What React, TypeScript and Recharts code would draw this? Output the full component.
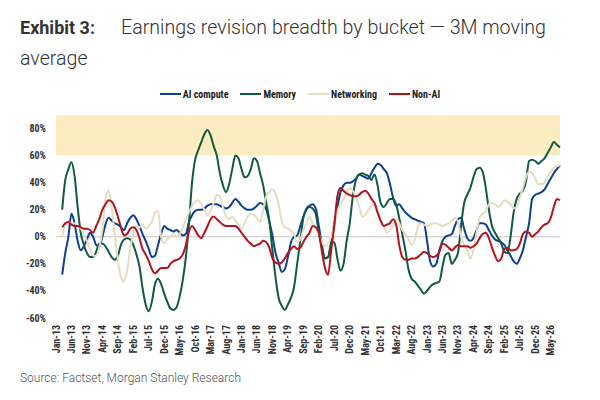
import React from "react";
import {
  LineChart,
  Line,
  XAxis,
  YAxis,
  ReferenceArea,
  ReferenceLine,
} from "recharts";

const MONTHS = ["Jan", "Feb", "Mar", "Apr", "May", "Jun", "Jul", "Aug", "Sep", "Oct", "Nov", "Dec"];
const FIRST_YEAR = 13;
const N_MONTHS = 164; // Jan-13 .. Aug-26

const categories: string[] = [];
for (let i = 0; i < N_MONTHS; i++) {
  categories.push(`${MONTHS[i % 12]}-${FIRST_YEAR + Math.floor(i / 12)}`);
}

const yTicks = [-60, -40, -20, 0, 20, 40, 60, 80];

// 3M moving average, % (null = no data)
const aiCompute: (number | null)[] = [
  null, null, -28, -12, 0, 17, 10, -3, -10, -7, -2, 3,
  0, -6, -7, 0, 9, 14, 12, 10, 9, 7, 5, 10,
  14, 16, 13, 8, 2, -3, -9, -15, -14, -6, 2, 8,
  6, 5, 4, 5, 3, 1, 2, 11, 16, 19, 20, 20,
  21, 23, 24, 24, 24, 23, 22, 21, 22, 25, 28, 26,
  23, 21, 20, 20, 21, 23, 25, 24, 20, 11, 1, -12,
  -19, -26, -24, -15, -4, 0, 1, 8, 15, 21, 23, 24,
  21, 8, -6, -16, -15, -4, 10, 22, 33, 38, 40, 40,
  41, 43, 46, 45, 44, 43, 47, 51, 54, 53, 50, 47,
  39, 29, 23, 24, 21, 18, 16, 14, 13, 12, 11, 10,
  -3, -18, -22, -20, -10, -3, 0, 1, 2, 8, 13, 14,
  6, -1, -3, -1, 5, 10, 10, 9, 5, 1, -2, -3,
  -4, -6, -10, -14, -18, -20, -16, -10, 0, 10, 28, 31,
  32, 33, 35, 39, 43, 47, 50, 53,
];

const memory: (number | null)[] = [
  null, null, 20, 42, 50, 55, 45, 22, 3, -6, -12, -15,
  -15, -11, -5, -5, -7, -11, -15, -17, -14, -6, -2, -1,
  -2, -6, -13, -22, -38, -50, -55, -48, -35, -31, -35, -42,
  -48, -53, -54, -52, -44, -32, -15, 10, 40, 57, 64, 70,
  76, 79, 75, 67, 60, 47, 38, 33, 39, 50, 60, 58,
  50, 44, 45, 50, 58, 56, 47, 38, 25, 12, -10, -30,
  -45, -51, -54, -50, -45, -37, -20, -3, 14, 20, 22, 21,
  17, 3, -8, -16, -15, -5, -4, -16, -25, -20, -3, 10,
  30, 42, 46, 47, 46, 45, 42, 46, 38, 25, 22, 25,
  28, 28, 24, 14, 2, -10, -24, -31, -33, -36, -39, -42,
  -40, -37, -35, -34, -33, -22, -13, -12, -20, -17, -12, 8,
  25, 31, 36, 44, 50, 51, 48, 36, 20, 8, 3, -1,
  -5, -11, -12, 0, 18, 28, 32, 34, 41, 56, 57, 56,
  54, 56, 58, 62, 66, 70, 68, 66,
];

const networking: (number | null)[] = [
  null, null, 0, 9, 11, 10, 10, 8, 6, 2, -3, -9,
  -14, -14, -8, 5, 28, 34, 22, 2, -17, -30, -33, -25,
  -9, 3, 8, 7, 9, 6, 8, 11, 18, 19, 0, -5,
  -2, 0, 2, 0, 2, 7, 13, 18, 23, 26, 27, 24,
  20, 16, 19, 25, 31, 30, 22, 15, 13, 15, 12, 9,
  6, 10, 15, 17, 16, 14, 11, 20, 30, 33, 35, 32,
  24, 12, 7, 6, 4, 2, -4, -2, 5, 10, 15, 10,
  7, 2, -4, -7, -5, 0, 9, 19, 24, 28, 33, 36,
  34, 29, 23, 15, 16, 20, 23, 24, 18, 12, 8, 3,
  5, 8, 13, 10, 5, 2, -2, -6, -2, 7, 10, 9,
  8, 9, 10, 10, 9, 8, 9, 10, 12, 14, 11, 0,
  -6, -10, -16, -10, 3, 14, 17, 19, 24, 25, 24, 22,
  24, 27, 26, 24, 21, 22, 29, 36, 44, 48, 47, 43,
  39, 39, 40, 45, 48, 51, 52, 53,
];

const nonAI: (number | null)[] = [
  null, null, 7, 10, 11, 9, 8, 8, 7, 6, 6, 5,
  3, 8, 13, 20, 24, 27, 26, 22, 15, 7, 1, 2,
  6, 7, 5, -1, -9, -13, -18, -24, -27, -25, -23, -23,
  -23, -20, -18, -17, -16, -13, -6, 4, 8, 5, 1, -1,
  3, 8, 13, 15, 13, 11, 9, 8, 8, 8, 8, 6,
  3, 0, -3, -5, -7, -6, -5, -3, -4, -8, -16, -19,
  -20, -19, -16, -12, -9, -7, -9, -8, -4, 0, 3, 8,
  7, 3, -11, -23, -28, -10, 8, 30, 36, 34, 32, 31,
  30, 30, 31, 33, 34, 32, 28, 25, 18, 12, 8, 9,
  10, 13, 9, -6, -15, -17, -17, -16, -16, -15, -13, -11,
  -12, -14, -15, -14, -11, -5, -6, -8, -10, -8, -6, -7,
  -7, -7, -8, -7, -5, -1, 2, 3, -1, -8, -14, -18,
  -16, -9, -8, -10, -10, -9, -5, 2, 4, 3, 0, 2,
  4, 7, 9, 10, 14, 22, 28, 27,
];

const series = [
  { key: "aiCompute", name: "AI compute", color: "#0d3f8f", values: aiCompute },
  { key: "memory", name: "Memory", color: "#105a44", values: memory },
  { key: "networking", name: "Networking", color: "#e6dcc2", values: networking },
  { key: "nonAI", name: "Non-AI", color: "#b3141c", values: nonAI },
];

const data = categories.map((month, i) => {
  const row: Record<string, string | number | null> = { month };
  series.forEach((s) => {
    row[s.key] = s.values[i] ?? null;
  });
  return row;
});

const AXIS_FONT = "'Liberation Sans Narrow', 'Roboto Condensed', Roboto, sans-serif";

const XTick = (props: any) => {
  const { x, y, payload } = props;
  return (
    <text
      x={x}
      y={y}
      transform={`rotate(-90, ${x}, ${y})`}
      textAnchor="end"
      dy="0.35em"
      fontSize={10}
      fontWeight={700}
      fontFamily={AXIS_FONT}
      fill="#333"
    >
      {payload.value}
    </text>
  );
};

const LegendBlock = () => (
  <div
    style={{
      position: "absolute",
      top: 88,
      left: 0,
      width: 600,
      height: 12,
      display: "flex",
      justifyContent: "center",
      alignItems: "center",
      fontFamily: AXIS_FONT,
      fontSize: 10,
      fontWeight: 700,
      color: "#222",
    }}
  >
    {series.map((s, idx) => (
      <div
        key={s.key}
        style={{ display: "flex", alignItems: "center", marginLeft: idx === 0 ? 0 : 12 }}
      >
        <span
          style={{
            display: "inline-block",
            width: 21,
            height: 2,
            background: s.color,
            marginRight: 2,
          }}
        />
        <span>{s.name}</span>
      </div>
    ))}
  </div>
);

export default function App() {
  return (
    <div
      style={{
        position: "relative",
        width: 600,
        height: 400,
        background: "#fff",
        fontFamily: "Roboto, sans-serif",
        overflow: "hidden",
      }}
    >
      <style>{`body{margin:0;}`}</style>
      <div
        style={{
          position: "absolute",
          left: 20,
          top: 12,
          lineHeight: "31px",
          color: "#333",
          whiteSpace: "nowrap",
        }}
      >
        <div style={{ position: "relative", height: 31 }}>
          <span style={{ fontWeight: 700, fontSize: 18 }}>Exhibit 3:</span>
          <span style={{ fontWeight: 300, fontSize: 19.6, position: "absolute", left: 101, top: 0 }}>
            Earnings revision breadth by bucket — 3M moving
          </span>
        </div>
        <div style={{ fontWeight: 300, fontSize: 19.6 }}>average</div>
      </div>

      <LegendBlock />

      <div style={{ position: "absolute", left: 0, top: 0 }}>
        <LineChart
          width={600}
          height={368}
          data={data}
          margin={{ top: 115, right: 40, bottom: 0, left: 20 }}
        >
          <ReferenceArea y1={60} y2={90} fill="#fbedc0" fillOpacity={1} stroke="none" ifOverflow="hidden" />
          <ReferenceLine y={0} stroke="#c4c4c4" strokeWidth={1} />
          <XAxis
            dataKey="month"
            interval={4}
            axisLine={false}
            tickLine={false}
            tickSize={0}
            tickMargin={7}
            height={50}
            tick={<XTick />}
          />
          <YAxis
            domain={[-60, 90]}
            ticks={yTicks}
            allowDataOverflow
            axisLine={false}
            tickLine={false}
            tickSize={0}
            tickMargin={10}
            width={36}
            tickFormatter={(v: number) => `${v}%`}
            tick={{ fontSize: 10, fontWeight: 700, fontFamily: AXIS_FONT, fill: "#333" }}
          />
          {series.map((s) => (
            <Line
              key={s.key}
              type="monotone"
              dataKey={s.key}
              name={s.name}
              stroke={s.color}
              strokeWidth={2}
              dot={false}
              activeDot={false}
              isAnimationActive={false}
            />
          ))}
        </LineChart>
      </div>

      <div
        style={{
          position: "absolute",
          left: 20,
          top: 371,
          fontSize: 12,
          fontWeight: 300,
          color: "#555",
          whiteSpace: "nowrap",
        }}
      >
        Source: Factset, Morgan Stanley Research
      </div>
    </div>
  );
}
